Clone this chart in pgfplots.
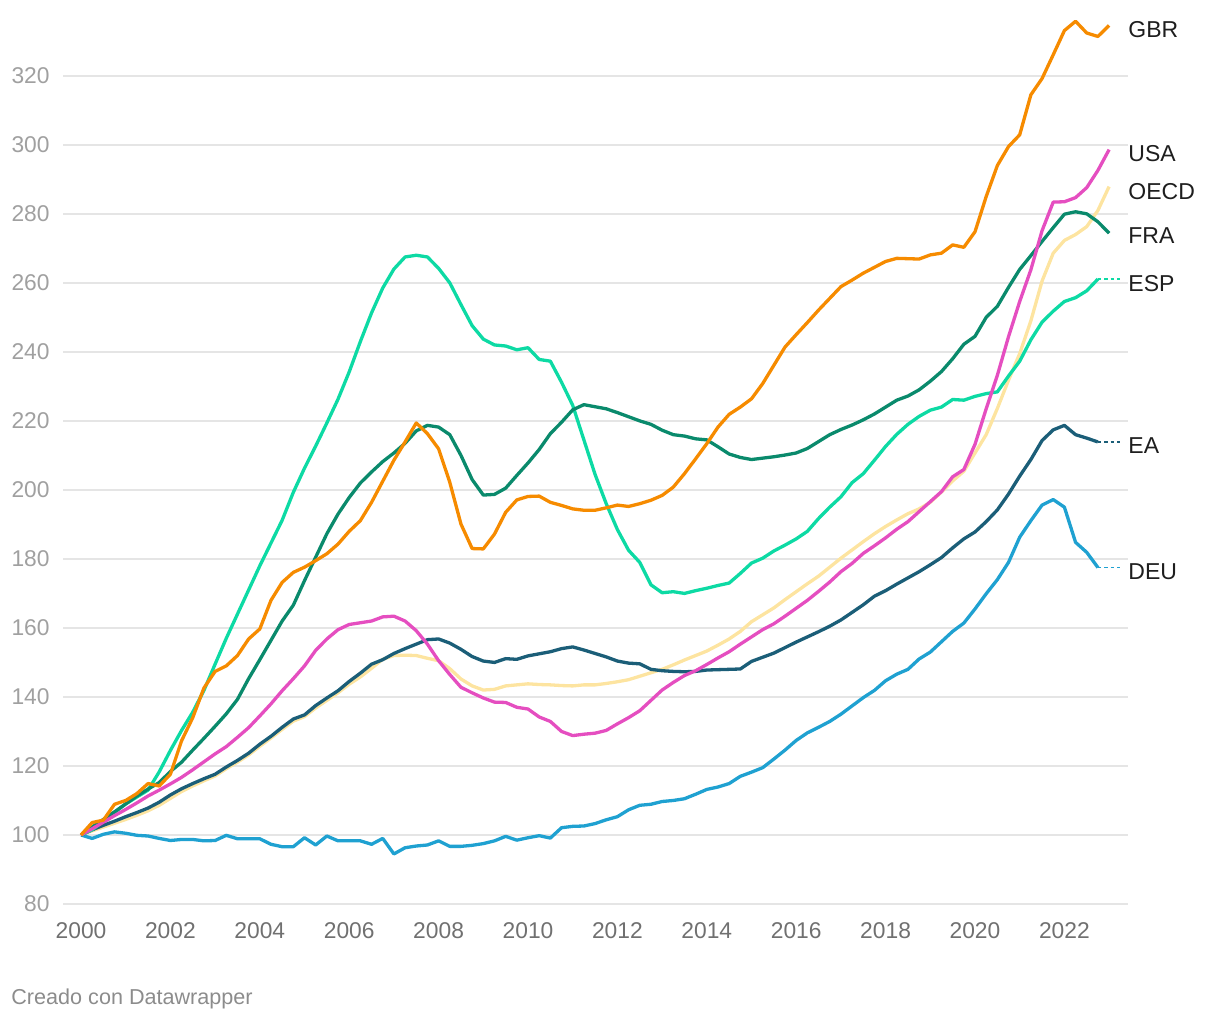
\documentclass[border=0pt]{standalone}
\usepackage{pgfplots}
\pgfplotsset{compat=1.18}
\usepackage{pgfplotstable}
\usepackage{fontspec}
\setmainfont{Liberation Sans}

\definecolor{cGBR}{HTML}{F68B00}
\definecolor{cUSA}{HTML}{E54EC0}
\definecolor{cOECD}{HTML}{FDE4A0}
\definecolor{cFRA}{HTML}{0A8A6C}
\definecolor{cESP}{HTML}{0DDAA4}
\definecolor{cEA}{HTML}{1B5E78}
\definecolor{cDEU}{HTML}{1FA1D1}
\definecolor{gridc}{HTML}{E5E5E5}
\definecolor{ylab}{HTML}{A0A0A0}
\definecolor{xlab}{HTML}{707070}
\definecolor{labc}{HTML}{1E1E1E}
\definecolor{footc}{HTML}{8C8C8C}

% quarterly index, 2000Q1 = 100
\pgfplotstableread{
t GBR USA OECD FRA ESP EA DEU
2000.00 100 100 100 100 100 100 100
2000.25 103.6 101.8 101.2 102.3 101.5 101.5 99
2000.50 104.3 103.7 102.3 104.5 104 102.8 100.2
2000.75 108.9 105.6 103.4 106.7 106.5 104 100.9
2001.00 110 107.4 104.5 109 109 105.3 100.5
2001.25 112 109.3 105.7 111.3 111 106.5 99.9
2001.50 114.9 111.3 107 113.3 113 107.8 99.7
2001.75 114.2 113 108.6 115.2 118.3 109.5 99
2002.00 117.6 114.8 110.6 118.4 124.5 111.6 98.4
2002.25 127.3 116.7 112.6 121.1 130.3 113.4 98.7
2002.50 134 118.9 114.2 124.6 135.6 114.9 98.7
2002.75 142.6 121.2 115.7 128 141.9 116.3 98.3
2003.00 147.4 123.5 117.1 131.5 149.5 117.6 98.4
2003.25 149 125.6 119.2 135.1 157 119.7 99.9
2003.50 152 128.3 121.1 139.3 164 121.6 98.9
2003.75 156.8 131.1 123.2 145.3 171 123.7 98.9
2004.00 159.7 134.5 125.7 150.8 178 126.3 98.9
2004.25 168 138 128.1 156.4 184.6 128.6 97.3
2004.50 173.2 141.8 130.6 162 191.2 131.2 96.6
2004.75 176.1 145.3 133 166.6 199.3 133.6 96.6
2005.00 177.6 149 134.3 173.7 206.3 134.8 99.2
2005.25 179.5 153.5 136.8 180.5 212.7 137.5 97.1
2005.50 181.5 156.8 139 187.3 219.4 139.7 99.7
2005.75 184.3 159.5 141.2 193 226.3 141.8 98.3
2006.00 188 161 143.7 197.8 234.2 144.5 98.3
2006.25 191.1 161.5 145.8 202 243 146.9 98.3
2006.50 196.4 162 148.3 205.2 251.3 149.5 97.3
2006.75 202.5 163.2 150.9 208.2 258.5 150.8 99
2007.00 208.6 163.4 152 210.7 264 152.6 94.5
2007.25 213.9 162 152.1 213.5 267.5 154 96.3
2007.50 219.4 159.2 152 217.1 268 155.3 96.8
2007.75 216.3 155.3 151.2 218.7 267.5 156.6 97.1
2008.00 211.9 150.5 150.5 218.2 264.2 156.8 98.3
2008.25 202.2 146.5 148.2 216 260 155.6 96.7
2008.50 190.1 142.8 145.2 210 253.7 153.8 96.7
2008.75 183 141.2 143.2 203 247.6 151.7 97
2009.00 182.9 139.7 142 198.5 243.7 150.4 97.5
2009.25 187.2 138.5 142.2 198.7 242 150 98.3
2009.50 193.5 138.4 143.2 200.5 241.7 151.1 99.6
2009.75 197.1 137 143.5 204.2 240.6 150.9 98.5
2010.00 198.1 136.5 143.8 207.8 241.2 151.9 99.2
2010.25 198.2 134.2 143.6 211.7 237.8 152.5 99.8
2010.50 196.4 132.9 143.5 216.3 237.3 153.1 99.1
2010.75 195.5 130 143.3 219.6 231.2 154 102.1
2011.00 194.5 128.8 143.2 223.2 224.5 154.5 102.5
2011.25 194.1 129.2 143.5 224.7 214.5 153.6 102.6
2011.50 194.1 129.5 143.5 224.1 204.5 152.6 103.3
2011.75 194.8 130.3 143.9 223.5 196 151.6 104.4
2012.00 195.6 132.2 144.4 222.4 188.5 150.4 105.3
2012.25 195.2 134 145 221.2 182.5 149.8 107.3
2012.50 196 136 146 220 179 149.6 108.6
2012.75 197 139 147 219 172.5 148 108.9
2013.00 198.4 142 148 217.3 170.2 147.6 109.7
2013.25 200.8 144.2 149.3 216 170.5 147.4 110
2013.50 204.7 146.2 150.7 215.6 170 147.3 110.5
2013.75 209 147.6 152 214.8 170.8 147.4 111.8
2014.00 213.4 149.4 153.3 214.5 171.5 147.8 113.2
2014.25 218.2 151.3 155 212.5 172.3 147.9 113.9
2014.50 221.9 153.1 156.8 210.4 173 148 114.9
2014.75 224 155.3 159 209.4 175.8 148.1 117
2015.00 226.4 157.4 161.8 208.8 178.8 150.3 118.2
2015.25 230.8 159.5 163.8 209.2 180.2 151.5 119.5
2015.50 236.1 161.2 165.8 209.6 182.3 152.7 122
2015.75 241.4 163.4 168.2 210.1 184 154.3 124.6
2016.00 245 165.7 170.5 210.7 185.8 155.9 127.4
2016.25 248.5 168 172.8 212 188 157.4 129.6
2016.50 252.1 170.6 175 214 191.7 158.9 131.2
2016.75 255.5 173.3 177.6 216 195 160.5 132.9
2017.00 258.9 176.3 180.2 217.5 198 162.3 135
2017.25 260.8 178.7 182.6 218.8 202.1 164.5 137.4
2017.50 262.8 181.6 185 220.3 204.7 166.7 139.8
2017.75 264.5 183.8 187.3 222 208.6 169.2 141.9
2018.00 266.2 186.1 189.4 224 212.6 170.8 144.7
2018.25 267.1 188.6 191.3 226 216.1 172.7 146.6
2018.50 267 190.8 193.1 227.2 219 174.5 148
2018.75 266.9 193.7 194.5 229 221.3 176.3 151
2019.00 268.1 196.6 196.4 231.5 223.1 178.3 153
2019.25 268.6 199.5 199.4 234.3 224 180.4 156
2019.50 271 203.8 202.6 238 226.2 183.2 159
2019.75 270.3 205.9 205.4 242.2 226 185.8 161.4
2020.00 274.8 213.2 210.7 244.5 227.1 187.8 165.5
2020.25 285 223.5 216 250 227.9 190.8 169.9
2020.50 294 233.2 223.6 253.2 228.4 194.2 174
2020.75 299.5 244.4 231.8 258.7 233 198.8 179
2021.00 302.9 254.6 239.5 263.9 237.3 204 186.3
2021.25 314.5 263.8 249 267.9 243.5 208.8 191.1
2021.50 319.2 275.1 260.5 272 248.6 214.3 195.6
2021.75 326.1 283.4 268.6 276 251.8 217.4 197.2
2022.00 333.1 283.5 272.3 279.9 254.6 218.7 195
2022.25 335.8 284.7 274 280.6 255.7 216 184.8
2022.50 332.4 287.6 276.3 280 257.7 215 181.9
2022.75 331.4 292.6 281 277.7 261.1 213.9 177.5
2023.00 334.6 298.6 287.9 274.4 nan nan nan
}\hpi

\begin{document}
\begin{tikzpicture}
\useasboundingbox (-31.5pt,-58pt) rectangle (578.5pt,452pt);
\begin{axis}[
  scale only axis, width=532.5pt, height=448.6pt,
  xmin=1999.597, xmax=2023.423, ymin=80, ymax=340,
  axis line style={draw=none}, major tick length=0pt,
  xtick={2000,2002,...,2022},
  xticklabels={2000,2002,2004,2006,2008,2010,2012,2014,2016,2018,2020,2022},
  ytick={80,100,...,320},
  yticklabels={80,100,120,140,160,180,200,220,240,260,280,300,320},
  ymajorgrids, grid style={draw=gridc, line width=0.75pt},
  xticklabel style={font=\fontsize{11.4}{13}\selectfont, text=xlab, anchor=north, inner sep=0pt, yshift=-9pt},
  yticklabel style={font=\fontsize{11.4}{13}\selectfont, text=ylab, anchor=east, inner sep=0pt, xshift=-6.5pt},
  clip=false,
  every axis plot/.append style={line width=1.65pt, line join=round, no markers},
  unbounded coords=discard,
]
\addplot[cOECD] table[x=t,y=OECD] {\hpi};
\addplot[cDEU] table[x=t,y=DEU] {\hpi};
\addplot[cEA] table[x=t,y=EA] {\hpi};
\addplot[cESP] table[x=t,y=ESP] {\hpi};
\addplot[cFRA] table[x=t,y=FRA] {\hpi};
\addplot[cUSA] table[x=t,y=USA] {\hpi};
\addplot[cGBR] table[x=t,y=GBR] {\hpi};

% dotted leaders to the labels
\addplot[cESP, line width=0.9pt, dash pattern=on 1.6pt off 1.6pt] coordinates {(2022.75,261.1) (2023.29,261.1)};
\addplot[cEA, line width=0.9pt, dash pattern=on 1.6pt off 1.6pt] coordinates {(2022.75,213.9) (2023.29,213.9)};
\addplot[cDEU, line width=0.9pt, dash pattern=on 1.6pt off 1.6pt] coordinates {(2022.75,177.5) (2023.29,177.5)};

\begin{scope}[every node/.style={anchor=west, inner sep=0pt, text=labc, font=\fontsize{11.5}{13}\selectfont}]
\node at (axis cs:2023.423,333.5) {GBR};
\node at (axis cs:2023.423,297.5) {USA};
\node at (axis cs:2023.423,286.4) {OECD};
\node at (axis cs:2023.423,273.7) {FRA};
\node at (axis cs:2023.423,259.8) {ESP};
\node at (axis cs:2023.423,212.8) {EA};
\node at (axis cs:2023.423,176.3) {DEU};
\end{scope}
\end{axis}
\node[anchor=base west, inner sep=0pt, text=footc, font=\fontsize{10.8}{13}\selectfont] at (-26pt,-50.5pt) {Creado con Datawrapper};
\end{tikzpicture}
\end{document}
